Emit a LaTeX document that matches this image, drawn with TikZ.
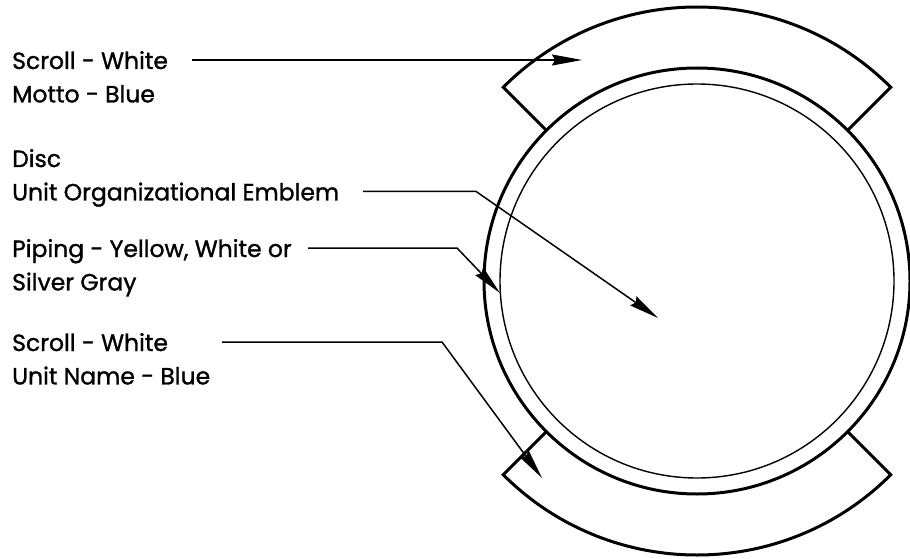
\documentclass[tikz,border=0pt]{standalone}
\usepackage{fontspec}
\setmainfont{Poppins}[FakeBold=1.2]
\usetikzlibrary{arrows.meta, positioning}

\begin{document}
\begin{tikzpicture}[x=1pt, y=1pt,
    lbl/.style={anchor=west, inner sep=0pt, text height=18pt, text depth=0pt,
      font=\fontsize{23.5}{23.5}\selectfont},
    lead/.style={line width=1.5pt, -{Stealth[length=30pt, width=11pt, inset=3pt]}},
    rim/.style={line width=3pt, line join=miter},
    piping/.style={line width=1.4pt}
  ]
  \useasboundingbox (0,0) rectangle (910,558);
  \coordinate (c) at (697,277);

  % scrolls behind the disc
  \draw[rim] ([shift={(135:213)}]c) -- ([shift={(135:274)}]c)
    arc[start angle=135, end angle=45, radius=274] -- ([shift={(45:213)}]c);
  \draw[rim] ([shift={(225:213)}]c) -- ([shift={(225:274)}]c)
    arc[start angle=225, end angle=315, radius=274] -- ([shift={(315:213)}]c);

  % disc and piping
  \draw[rim, fill=white] (c) circle[radius=213];
  \draw[piping] (c) circle[radius=197];

  % labels
  \node[lbl] (scrolltop) at (12,498) {Scroll - White};
  \node[lbl, below right=15pt and 0pt of scrolltop.south west, anchor=north west] (motto) {Motto - Blue};
  \node[lbl] (disc) at (12,400) {Disc};
  \node[lbl, below right=15pt and 0pt of disc.south west, anchor=north west] (emblem) {Unit Organizational Emblem};
  \node[lbl] (piping) at (12,310) {Piping - Yellow, White or};
  \node[lbl, below right=15pt and 0pt of piping.south west, anchor=north west] (silver) {Silver Gray};
  \node[lbl] (scrollbot) at (12,216) {Scroll - White};
  \node[lbl, below right=15pt and 0pt of scrollbot.south west, anchor=north west] (unitname) {Unit Name - Blue};

  % arrow tips
  \coordinate (mottotip) at (582,498);
  \coordinate (emblemtip) at (658,240);
  \coordinate (pipingtip) at (500,265);
  \coordinate (nametip) at (542,80);

  % leaders
  \draw[lead] (scrolltop.east -| 192,0) -- (mottotip);
  \draw[lead] (emblem.east -| 363,0) -- (emblem.east -| 476,0) -- (emblemtip);
  \draw[lead] (piping.east -| 308,0) -- (piping.east -| 457,0) -- (pipingtip);
  \draw[lead] (scrollbot.east -| 222,0) -- (scrollbot.east -| 442,0) -- (nametip);
\end{tikzpicture}
\end{document}
